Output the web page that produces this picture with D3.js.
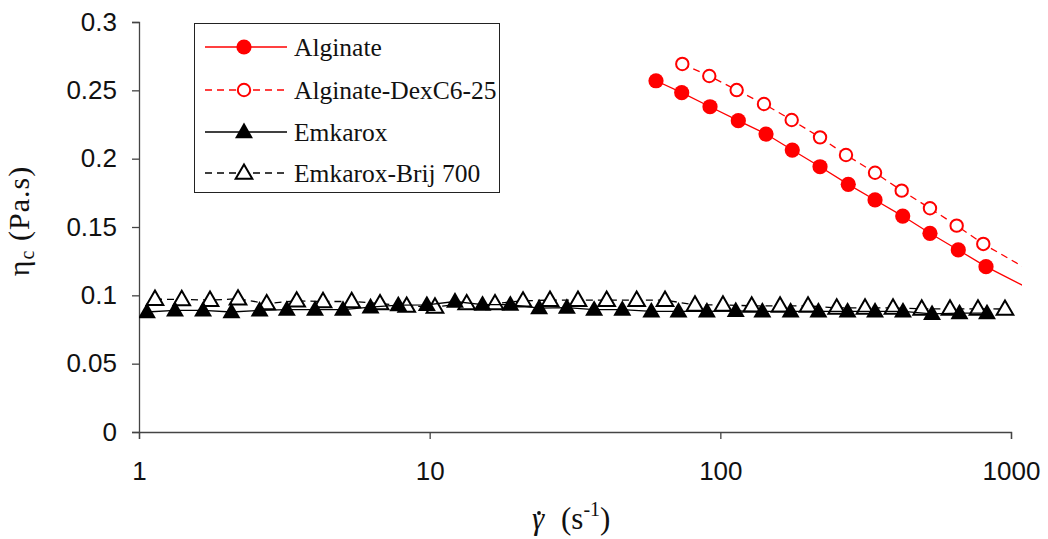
<!DOCTYPE html>
<html><head><meta charset="utf-8">
<script src="https://cdn.jsdelivr.net/npm/d3@7"></script>
<style>html,body{margin:0;padding:0;background:#fff;} svg{display:block;}</style>
</head><body>
<script>
// ---- data ----
const seriesNames = ["Alginate", "Alginate-DexC6-25", "Emkarox", "Emkarox-Brij 700"];

const alginateX = [60.07, 73.65, 92.15, 115.3, 143.6, 176.8, 220.3, 275.5, 340.6, 424.1, 526.3, 658.6, 820.4, 1200];
const alginateY = [0.2570, 0.2483, 0.2380, 0.2278, 0.2180, 0.2063, 0.1941, 0.1812, 0.1698, 0.1580, 0.1454, 0.1332, 0.1210, 0.1031];

const dexX = [73.99, 91.62, 113.8, 141.3, 176.0, 220.3, 270.6, 340.6, 420.7, 526.3, 650.2, 802.8, 1200];
const dexY = [0.2693, 0.2605, 0.2502, 0.2400, 0.2283, 0.2156, 0.2027, 0.1897, 0.1766, 0.1637, 0.1510, 0.1376, 0.1163];

const emkX = [1.065, 1.330, 1.661, 2.080, 2.600, 3.225, 4.032, 5.032, 6.260, 7.800, 9.780, 12.22, 15.20, 18.95, 23.80, 29.65, 36.80, 46.00, 57.90, 71.80, 89.90, 113.0, 139.5, 174.5, 217.5, 274.0, 340.6, 425.0, 535.0, 665.0, 826.9];
const emkY = [0.0878, 0.0890, 0.0890, 0.0878, 0.0890, 0.0895, 0.0895, 0.0895, 0.0913, 0.0929, 0.0930, 0.0955, 0.0932, 0.0932, 0.0907, 0.0910, 0.0896, 0.0896, 0.0883, 0.0883, 0.0883, 0.0886, 0.0883, 0.0883, 0.0883, 0.0883, 0.0883, 0.0883, 0.0865, 0.0870, 0.0870];

const brijX = [1.135, 1.403, 1.755, 2.191, 2.750, 3.487, 4.296, 5.392, 6.748, 8.337, 10.43, 13.41, 16.78, 20.95, 25.94, 32.38, 40.64, 51.54, 64.52, 81.81, 102.1, 128.2, 160.5, 200.3, 251.4, 314.6, 392.7, 493.0, 616.8, 769.8, 953.5];
const brijY = [0.0972, 0.0970, 0.0965, 0.0975, 0.0940, 0.0960, 0.0955, 0.0955, 0.0940, 0.0922, 0.0915, 0.0940, 0.0940, 0.0960, 0.0965, 0.0965, 0.0965, 0.0965, 0.0965, 0.0930, 0.0930, 0.0923, 0.0923, 0.0923, 0.0908, 0.0908, 0.0908, 0.0901, 0.0901, 0.0901, 0.0900];

const xTicks = [1, 10, 100, 1000];
const xTickLabels = ["1", "10", "100", "1000"];
const yTicks = [0, 0.05, 0.1, 0.15, 0.2, 0.25, 0.3];
const yTickLabels = ["0", "0.05", "0.1", "0.15", "0.2", "0.25", "0.3"];

// ---- layout ----
const W = 1048, H = 539;
const svg = d3.select("body").append("svg").attr("width", W).attr("height", H);

const x = d3.scaleLog().domain([1, 1000]).range([139, 1011]);
const y = d3.scaleLinear().domain([0, 0.3]).range([432, 22]);

const sansFont = "'Liberation Sans', Arial, Helvetica, sans-serif";
const serifFont = "'Liberation Serif', 'Times New Roman', serif";

svg.append("defs").append("clipPath").attr("id", "plotclip")
  .append("rect").attr("x", 139).attr("y", 0).attr("width", 1022 - 139).attr("height", 440);

// axes
const xAxis = svg.append("g").attr("transform", "translate(0,432)")
  .call(d3.axisBottom(x).tickValues(xTicks).tickFormat((d, i) => xTickLabels[i]).tickSize(7).tickPadding(23));
const yAxis = svg.append("g").attr("transform", "translate(139,0)")
  .call(d3.axisLeft(y).tickValues(yTicks).tickFormat((d, i) => yTickLabels[i]).tickSize(7).tickPadding(15));
[xAxis, yAxis].forEach(a => {
  a.select(".domain").attr("stroke", "#444").attr("stroke-width", 1.3);
  a.selectAll(".tick line").attr("stroke", "#444").attr("stroke-width", 1.3);
  a.selectAll(".tick text").attr("font-family", sansFont).attr("font-size", 26).attr("fill", "#111");
});
xAxis.selectAll(".tick text").attr("dy", "0.71em");

// series
const plot = svg.append("g").attr("clip-path", "url(#plotclip)");
const lineGen = d3.line().x(d => x(d[0])).y(d => y(d[1]));
const zip = (xs, ys) => xs.map((v, i) => [v, ys[i]]);

const triSym = d3.symbol().type(d3.symbolTriangle).size(140);
const openTriSym = d3.symbol().type(d3.symbolTriangle).size(120);

function drawSeries(data, color, dash, marker) {
  plot.append("path").datum(data).attr("d", lineGen)
    .attr("fill", "none").attr("stroke", color).attr("stroke-width", 1.3)
    .attr("stroke-dasharray", dash);
  const g = plot.append("g");
  data.forEach(d => drawMarker(g, x(d[0]), y(d[1]), marker));
}
function drawMarker(g, cx, cy, marker) {
  if (marker === "filledCircle") {
    g.append("circle").attr("cx", cx).attr("cy", cy).attr("r", 7.6).attr("fill", "#ff0000");
  } else if (marker === "openCircle") {
    g.append("circle").attr("cx", cx).attr("cy", cy).attr("r", 6.2).attr("fill", "#fff")
      .attr("stroke", "#ff0000").attr("stroke-width", 2);
  } else if (marker === "filledTri") {
    g.append("path").attr("d", triSym).attr("transform", `translate(${cx},${cy + 1})`).attr("fill", "#000");
  } else if (marker === "openTri") {
    g.append("path").attr("d", openTriSym).attr("transform", `translate(${cx},${cy + 1})`)
      .attr("fill", "#fff").attr("stroke", "#000").attr("stroke-width", 2);
  }
}

drawSeries(zip(alginateX, alginateY), "#ff0000", null, "filledCircle");
drawSeries(zip(dexX, dexY), "#ff0000", "7,5", "openCircle");
drawSeries(zip(brijX, brijY), "#000", "7,5", "openTri");
drawSeries(zip(emkX, emkY), "#000", null, "filledTri");

// legend
const leg = svg.append("g");
leg.append("rect").attr("x", 194.5).attr("y", 23.5).attr("width", 305).attr("height", 169)
  .attr("fill", "#fff").attr("stroke", "#222").attr("stroke-width", 1);
const legRows = [
  {name: seriesNames[0], color: "#ff0000", dash: null, marker: "filledCircle"},
  {name: seriesNames[1], color: "#ff0000", dash: "7,5", marker: "openCircle"},
  {name: seriesNames[2], color: "#000", dash: null, marker: "filledTri"},
  {name: seriesNames[3], color: "#000", dash: "7,5", marker: "openTri"}
];
const rowY = [47, 90, 132, 173];
legRows.forEach((r, i) => {
  const cy = rowY[i];
  leg.append("line").attr("x1", 205).attr("x2", 287).attr("y1", cy).attr("y2", cy)
    .attr("stroke", r.color).attr("stroke-width", 1.3).attr("stroke-dasharray", r.dash);
  drawMarker(leg, 244, cy, r.marker);
  leg.append("text").attr("x", 294).attr("y", cy + 9).attr("font-family", serifFont)
    .attr("font-size", 25.5).attr("fill", "#111").text(r.name);
});

// y axis title
const yt = svg.append("text").attr("transform", "translate(29,221) rotate(-90)")
  .attr("text-anchor", "middle").attr("font-family", serifFont).attr("font-size", 30)
  .attr("letter-spacing", 1).attr("fill", "#111");
yt.append("tspan").text("η");
yt.append("tspan").attr("font-size", 20).attr("dy", 5).text("c");
yt.append("tspan").attr("dy", -5).text(" (Pa.s)");

// x axis title (gamma with an overdot drawn as a small mark)
const xt = svg.append("text").attr("y", 529)
  .attr("font-family", serifFont).attr("font-size", 31).attr("fill", "#111");
xt.append("tspan").attr("x", 532).attr("font-style", "italic").text("γ");
xt.append("tspan").attr("x", 561).text("(s");
xt.append("tspan").attr("font-size", 20).attr("dy", -13).text("-1");
xt.append("tspan").attr("dy", 13).text(")");
svg.append("circle").attr("cx", 539).attr("cy", 513).attr("r", 1.9).attr("fill", "#111");
</script>
</body></html>
